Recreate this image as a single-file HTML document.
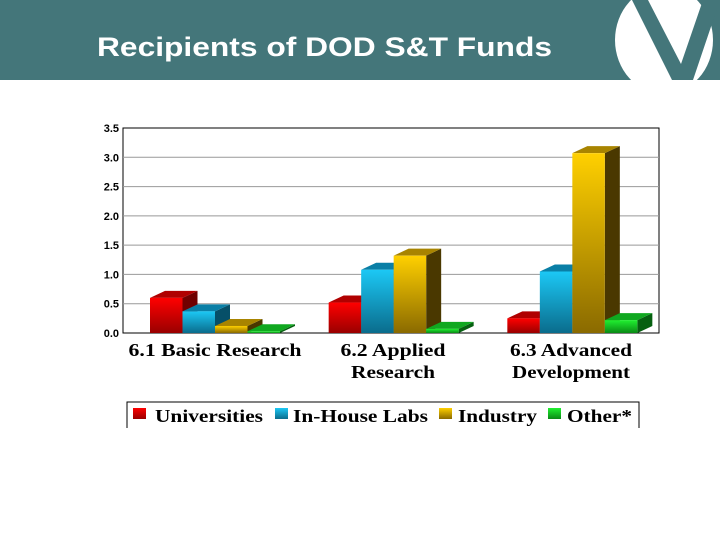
<!DOCTYPE html>
<html><head><meta charset="utf-8"><style>
body{margin:0;width:720px;height:540px;overflow:hidden;background:#fff;font-family:"Liberation Sans",sans-serif}
</style></head><body>
<svg width="720" height="540" xmlns="http://www.w3.org/2000/svg">
<defs>
<linearGradient id="gr" x1="0" y1="0" x2="0" y2="1"><stop offset="0" stop-color="#f00"/><stop offset="1" stop-color="#900"/></linearGradient>
<linearGradient id="gb" x1="0" y1="0" x2="0" y2="1"><stop offset="0" stop-color="#1cc8f5"/><stop offset="1" stop-color="#0a6c8c"/></linearGradient>
<linearGradient id="gy" x1="0" y1="0" x2="0" y2="1"><stop offset="0" stop-color="#ffd000"/><stop offset="1" stop-color="#8a6a00"/></linearGradient>
<linearGradient id="gg" x1="0" y1="0" x2="0" y2="1"><stop offset="0" stop-color="#20f030"/><stop offset="1" stop-color="#0a8a15"/></linearGradient>
<clipPath id="hc"><rect x="0" y="0" width="720" height="80"/></clipPath>
</defs>
<rect x="0" y="0" width="720" height="80" fill="#44767a"/>
<g clip-path="url(#hc)">
<ellipse cx="664" cy="40" rx="49" ry="54" fill="#fff"/>
<polygon points="632,0 648,0 681,64 703,0 720,0 693,80 672,80" fill="#44767a"/>
</g>
<text x="97" y="56" font-size="27" font-weight="bold" fill="#fff" textLength="455" lengthAdjust="spacingAndGlyphs">Recipients of DOD S&amp;T Funds</text>
<g id="chart"></g>
</svg>
<script>
const categories=[["6.1 Basic Research"],["6.2 Applied","Research"],["6.3 Advanced","Development"]];
const seriesNames=["Universities","In-House Labs","Industry","Other*"];
const universities=[0.6,0.52,0.25];
const inHouseLabs=[0.37,1.08,1.05];
const industry=[0.12,1.32,3.07];
const other=[0.03,0.07,0.22];
const ticks=[0,0.5,1,1.5,2,2.5,3,3.5];
const tickLabels=["0.0","0.5","1.0","1.5","2.0","2.5","3.0","3.5"];
const series=[universities,inHouseLabs,industry,other];
const fills=["url(#gr)","url(#gb)","url(#gy)","url(#gg)"];
const tops=["#b00000","#0a7fa6","#a88400","#10a820"];
const sides=["#700000","#064f68","#4a3800","#066010"];
const NS="http://www.w3.org/2000/svg";
const g=document.getElementById('chart');
const X0=123,X1=659,Y0=333,Y1=128,ymax=3.5;
const y=v=>Y0-(v/ymax)*(Y0-Y1);
const gw=(X1-X0)/categories.length,bw=32.5,dx=15,dy=7;
function el(t,a,txt){const e=document.createElementNS(NS,t);for(const k in a)e.setAttribute(k,a[k]);if(txt!==undefined)e.textContent=txt;g.appendChild(e);return e;}
let e=el('rect',{x:X0,y:Y1,width:X1-X0,height:Y0-Y1,fill:'#fff',stroke:'#000','stroke-width':1});

ticks.forEach((t,i)=>{
 if(t>0&&t<ymax){const l=el('line',{x1:X0,x2:X1,y1:y(t),y2:y(t),stroke:'#999','stroke-width':1});
 }
 const tx=el('text',{x:X0-4,y:y(t)+4,'text-anchor':'end','font-size':11,'font-weight':'bold','font-family':'Liberation Sans, sans-serif'},tickLabels[i]);
 
});
const labelW=[[173],[105,84],[122,118]];
categories.forEach((c,ci)=>{
 const gx=X0+ci*gw+27;
 series.forEach((s,si)=>{
  const v=s[ci],x=gx+si*bw,yt=y(v);
  const bar=document.createElementNS(NS,'g');g.appendChild(bar);
  
  
  const mk=(pts,f)=>{const p=document.createElementNS(NS,'polygon');p.setAttribute('points',pts);p.setAttribute('fill',f);bar.appendChild(p);};
  mk(`${x+bw},${yt} ${x+bw+dx},${yt-dy} ${x+bw+dx},${Y0-dy} ${x+bw},${Y0}`,sides[si]);
  mk(`${x},${yt} ${x+dx},${yt-dy} ${x+bw+dx},${yt-dy} ${x+bw},${yt}`,tops[si]);
  const r=document.createElementNS(NS,'rect');r.setAttribute('x',x);r.setAttribute('y',yt);r.setAttribute('width',bw);r.setAttribute('height',Y0-yt);r.setAttribute('fill',fills[si]);bar.appendChild(r);
 });
 const cx=[215,393,571][ci];
 c.forEach((line,li)=>{
  const t=el('text',{x:cx,y:356+li*22,'text-anchor':'middle','font-size':18,'font-weight':'bold','font-family':'Liberation Serif, serif',textLength:labelW[ci][li],lengthAdjust:'spacingAndGlyphs'},line);
  
 });
});
const lg=el('path',{d:'M127,428 V402 H639 V428',fill:'none',stroke:'#000','stroke-width':1});

const lx=[133,275,439,548],tx0=[155,293,458,567],tw=[108,135,79,65];
seriesNames.forEach((n,i)=>{
 const r=el('rect',{x:lx[i],y:408,width:13,height:11,fill:fills[i]});
 
 const t=el('text',{x:tx0[i],y:422,'font-size':18,'font-weight':'bold','font-family':'Liberation Serif, serif',textLength:tw[i],lengthAdjust:'spacingAndGlyphs'},n);
 
});
</script>
</body></html>
